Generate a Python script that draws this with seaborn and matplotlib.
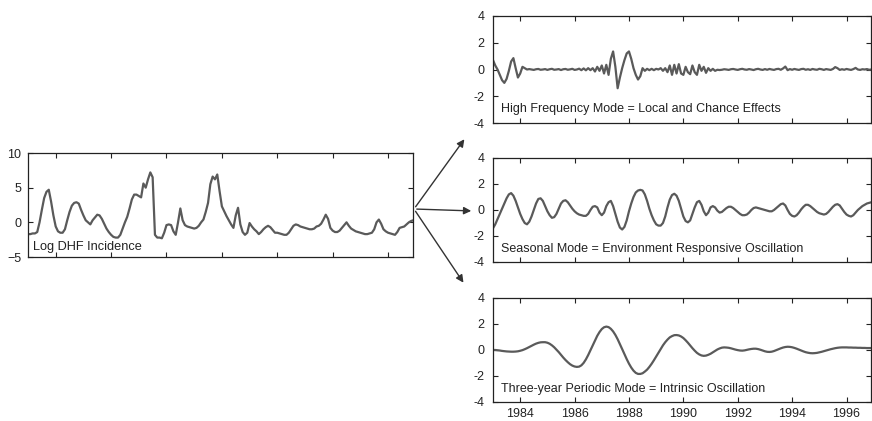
import numpy as np
import pandas as pd
import matplotlib
matplotlib.use("Agg")
import matplotlib.pyplot as plt
import seaborn as sns
from matplotlib.patches import FancyArrowPatch

# ---------------- data (monthly, starting Jan 1983) ----------------
START_YEAR = 1983

log_dhf = [-1.7,-1.7,-1.6,-1.6,-1.4,0.0,1.8,3.5,4.4,4.7,
           3.0,1.0,-0.6,-1.3,-1.5,-1.5,-1.0,0.3,1.5,2.4,
           2.8,2.9,2.7,1.8,1.0,0.3,0.0,-0.3,0.3,0.7,
           1.1,1.0,0.5,-0.2,-0.9,-1.4,-1.8,-2.1,-2.2,-2.2,
           -1.8,-0.9,0.0,0.8,2.0,3.3,4.0,4.0,3.8,3.6,
           5.6,5.0,6.2,7.2,6.5,-1.8,-2.2,-2.2,-2.3,-1.5,
           -0.4,-0.3,-0.4,-1.3,-1.8,0.0,2.0,0.3,-0.4,-0.6,
           -0.7,-0.8,-0.9,-0.8,-0.5,0.0,0.4,1.5,2.8,5.5,
           6.6,6.2,6.9,4.5,2.3,1.6,0.9,0.3,-0.3,-0.8,
           1.0,2.1,-0.3,-1.4,-1.8,-1.5,-0.1,-0.6,-1.0,-1.3,
           -1.7,-1.4,-1.0,-0.7,-0.5,-0.7,-1.1,-1.5,-1.5,-1.6,
           -1.7,-1.8,-1.8,-1.5,-1.0,-0.5,-0.3,-0.4,-0.6,-0.7,
           -0.8,-0.9,-1.0,-1.0,-0.9,-0.6,-0.5,-0.2,0.4,1.1,
           0.5,-0.8,-1.2,-1.4,-1.4,-1.2,-0.8,-0.4,0.0,-0.5,
           -0.9,-1.1,-1.3,-1.4,-1.5,-1.6,-1.7,-1.7,-1.6,-1.5,
           -1.0,0.0,0.4,-0.2,-1.0,-1.3,-1.5,-1.6,-1.7,-1.8,
           -1.4,-0.8,-0.7,-0.6,-0.3,0.0,0.2,0.3]

high_freq = [0.7,0.3,0.0,-0.4,-0.8,-1.0,-0.7,-0.1,0.6,0.85,
             0.1,-0.6,-0.3,0.2,0.1,0.0,0.03,0.0,-0.03,0.02,
             0.04,-0.02,0.0,0.03,-0.03,0.02,0.05,-0.02,0.0,0.03,
             -0.04,0.02,0.04,-0.02,0.01,0.05,-0.03,0.0,0.06,-0.05,
             0.08,-0.06,0.1,-0.05,0.1,-0.15,0.2,-0.1,0.3,-0.3,
             0.35,-0.4,0.8,1.35,0.2,-1.4,-0.6,0.1,0.7,1.2,
             1.35,0.8,0.1,-0.4,-0.75,-0.5,0.1,-0.1,0.05,-0.05,
             0.05,-0.05,0.05,0.0,0.1,-0.1,0.1,-0.2,0.3,-0.4,
             0.35,-0.3,0.4,-0.3,-0.4,0.2,-0.2,-0.35,0.3,-0.2,
             -0.4,0.35,-0.1,0.2,-0.25,0.1,-0.1,0.05,-0.1,-0.02,
             -0.04,-0.02,0.02,0.0,-0.03,0.02,0.04,0.0,-0.03,0.02,
             0.05,0.0,-0.02,0.03,0.0,-0.04,0.02,0.05,0.0,-0.03,
             0.03,-0.02,0.04,0.0,-0.03,0.03,0.05,-0.02,0.08,0.22,
             -0.05,0.03,-0.02,0.04,0.0,-0.03,0.03,0.05,-0.02,0.02,
             -0.03,0.04,0.0,-0.02,0.05,0.02,-0.03,0.03,0.0,-0.03,
             0.04,0.18,0.1,-0.03,0.02,-0.02,0.04,0.0,-0.03,0.03,
             0.12,0.0,-0.03,0.02,0.0,0.03,-0.02,0.0]

seasonal = [-1.4,-1.1,-0.7,-0.3,0.1,0.5,0.9,1.2,1.3,1.1,
            0.7,0.2,-0.3,-0.7,-1.0,-1.1,-0.9,-0.5,0.0,0.5,
            0.85,0.9,0.7,0.3,-0.1,-0.4,-0.6,-0.55,-0.3,0.1,
            0.5,0.7,0.75,0.6,0.35,0.1,-0.1,-0.25,-0.35,-0.4,
            -0.45,-0.45,-0.3,0.0,0.25,0.3,0.2,-0.2,-0.4,-0.2,
            0.3,0.6,0.7,0.3,-0.3,-0.9,-1.35,-1.5,-1.3,-0.8,
            -0.1,0.5,1.0,1.35,1.5,1.55,1.5,1.2,0.7,0.1,
            -0.4,-0.8,-1.1,-1.2,-1.2,-1.0,-0.5,0.2,0.8,1.15,
            1.25,1.1,0.7,0.1,-0.5,-0.85,-0.95,-0.8,-0.3,0.2,
            0.6,0.7,0.4,-0.1,-0.4,-0.2,0.2,0.3,0.2,-0.05,
            -0.2,-0.15,0.0,0.15,0.25,0.25,0.15,0.0,-0.15,-0.3,
            -0.4,-0.4,-0.35,-0.2,0.0,0.15,0.2,0.15,0.1,0.05,
            0.0,-0.05,-0.1,-0.1,0.0,0.15,0.3,0.45,0.5,0.35,
            0.0,-0.3,-0.45,-0.5,-0.4,-0.2,0.05,0.25,0.4,0.4,
            0.3,0.15,0.0,-0.15,-0.25,-0.3,-0.35,-0.3,-0.15,0.05,
            0.25,0.4,0.45,0.35,0.1,-0.15,-0.35,-0.45,-0.5,-0.4,
            -0.2,0.0,0.15,0.3,0.4,0.5,0.55,0.6]

three_year = [0.0,0.0,-0.02,-0.04,-0.07,-0.09,-0.11,-0.12,-0.13,-0.13,
              -0.12,-0.1,-0.06,-0.01,0.06,0.14,0.23,0.32,0.41,0.49,
              0.55,0.59,0.6,0.6,0.56,0.48,0.36,0.21,0.03,-0.16,
              -0.37,-0.58,-0.77,-0.94,-1.09,-1.2,-1.27,-1.3,-1.28,-1.18,
              -0.99,-0.72,-0.39,-0.02,0.36,0.74,1.09,1.38,1.61,1.75,
              1.8,1.76,1.63,1.43,1.16,0.83,0.46,0.07,-0.32,-0.7,
              -1.05,-1.35,-1.59,-1.76,-1.84,-1.84,-1.79,-1.66,-1.51,-1.3,
              -1.06,-0.79,-0.5,-0.2,0.085,0.36,0.6,0.8,0.97,1.07,
              1.14,1.15,1.12,1.04,0.92,0.75,0.56,0.35,0.14,-0.05,
              -0.22,-0.34,-0.42,-0.45,-0.43,-0.37,-0.29,-0.18,-0.07,0.04,
              0.12,0.18,0.2,0.19,0.17,0.13,0.08,0.03,-0.01,-0.04,
              -0.05,-0.03,0.01,0.05,0.08,0.1,0.1,0.07,0.02,-0.04,
              -0.1,-0.14,-0.15,-0.13,-0.08,-0.01,0.06,0.13,0.19,0.23,
              0.25,0.24,0.21,0.16,0.1,0.03,-0.04,-0.11,-0.17,-0.21,
              -0.24,-0.25,-0.24,-0.22,-0.18,-0.14,-0.09,-0.04,0.01,0.06,
              0.1,0.14,0.17,0.19,0.2,0.2,0.2,0.19,0.19,0.18,
              0.18,0.17,0.17,0.16,0.16,0.15,0.15,0.15]

left_label = "Log DHF Incidence"
mode_labels = ["High Frequency Mode = Local and Chance Effects",
               "Seasonal Mode = Environment Responsive Oscillation",
               "Three-year Periodic Mode = Intrinsic Oscillation"]
year_ticks = [1984, 1986, 1988, 1990, 1992, 1994, 1996]
left_yticks = [-5, 0, 5, 10]
left_yticklabels = ["\u22125", "0", "5", "10"]
mode_yticks = [-4, -2, 0, 2, 4]
mode_yticklabels = ["-4", "-2", "0", "2", "4"]

# ---------------- styling ----------------
sns.set_style("ticks")
plt.rcParams["font.family"] = ["Liberation Sans", "DejaVu Sans"]

W, H = 872, 421
fig = plt.figure(figsize=(W / 100, H / 100), dpi=100)
fig.patch.set_facecolor("white")

LINE_COLOR = "#5a5a5a"
XMIN, XMAX = 1983.0, 1996.9


def px_axes(x0, y0, x1, y1):
    return fig.add_axes([x0 / W, 1 - y1 / H, (x1 - x0) / W, (y1 - y0) / H])


def series_df(vals):
    t = START_YEAR + np.arange(len(vals)) / 12.0
    return pd.DataFrame({"year": t, "value": vals})


def style_axes(ax):
    for s in ax.spines.values():
        s.set_visible(True)
        s.set_color("#222222")
        s.set_linewidth(0.9)
    ax.tick_params(direction="in", top=True, right=True, length=3.5,
                   width=0.8, colors="#222222", labelsize=9)
    ax.set_xlim(XMIN, XMAX)
    ax.set_xlabel("")
    ax.set_ylabel("")
    ax.set_facecolor("white")
    ax.grid(False)


# left panel
axL = px_axes(28, 153, 413, 257)
sns.lineplot(data=series_df(log_dhf), x="year", y="value", ax=axL,
             color=LINE_COLOR, linewidth=1.6)
style_axes(axL)
axL.set_ylim(-5, 10)
axL.set_yticks(left_yticks, left_yticklabels)
axL.set_xticks(year_ticks, [""] * len(year_ticks))
axL.tick_params(axis="y", pad=5)
axL.text(0.012, 0.035, left_label, transform=axL.transAxes, fontsize=9.2,
         color="#222222", va="bottom", ha="left")

# right panels
panel_px = [(493, 16, 871, 123), (493, 158, 871, 262), (493, 298, 871, 402)]
mode_series = [high_freq, seasonal, three_year]
for k, ((x0, y0, x1, y1), vals, lab) in enumerate(zip(panel_px, mode_series, mode_labels)):
    ax = px_axes(x0, y0, x1, y1)
    sns.lineplot(data=series_df(vals), x="year", y="value", ax=ax,
                 color=LINE_COLOR, linewidth=1.6)
    style_axes(ax)
    ax.set_ylim(-4, 4)
    ax.set_yticks(mode_yticks, mode_yticklabels)
    ax.tick_params(axis="y", pad=6)
    if k == 2:
        ax.set_xticks(year_ticks, [str(y) for y in year_ticks])
        ax.tick_params(axis="x", pad=4)
    else:
        ax.set_xticks(year_ticks, [""] * len(year_ticks))
    ax.text(0.02, 0.1, lab, transform=ax.transAxes, fontsize=9,
            color="#222222", va="baseline", ha="left")

# arrows
start = (414, 209)
for end in [(466, 137), (474, 211), (465, 285)]:
    arr = FancyArrowPatch((start[0] / W, 1 - start[1] / H),
                          (end[0] / W, 1 - end[1] / H),
                          transform=fig.transFigure, arrowstyle="-|>",
                          mutation_scale=11, color="#333333", linewidth=1.0)
    fig.add_artist(arr)

fig.savefig("out.png", dpi=100, facecolor="white")
